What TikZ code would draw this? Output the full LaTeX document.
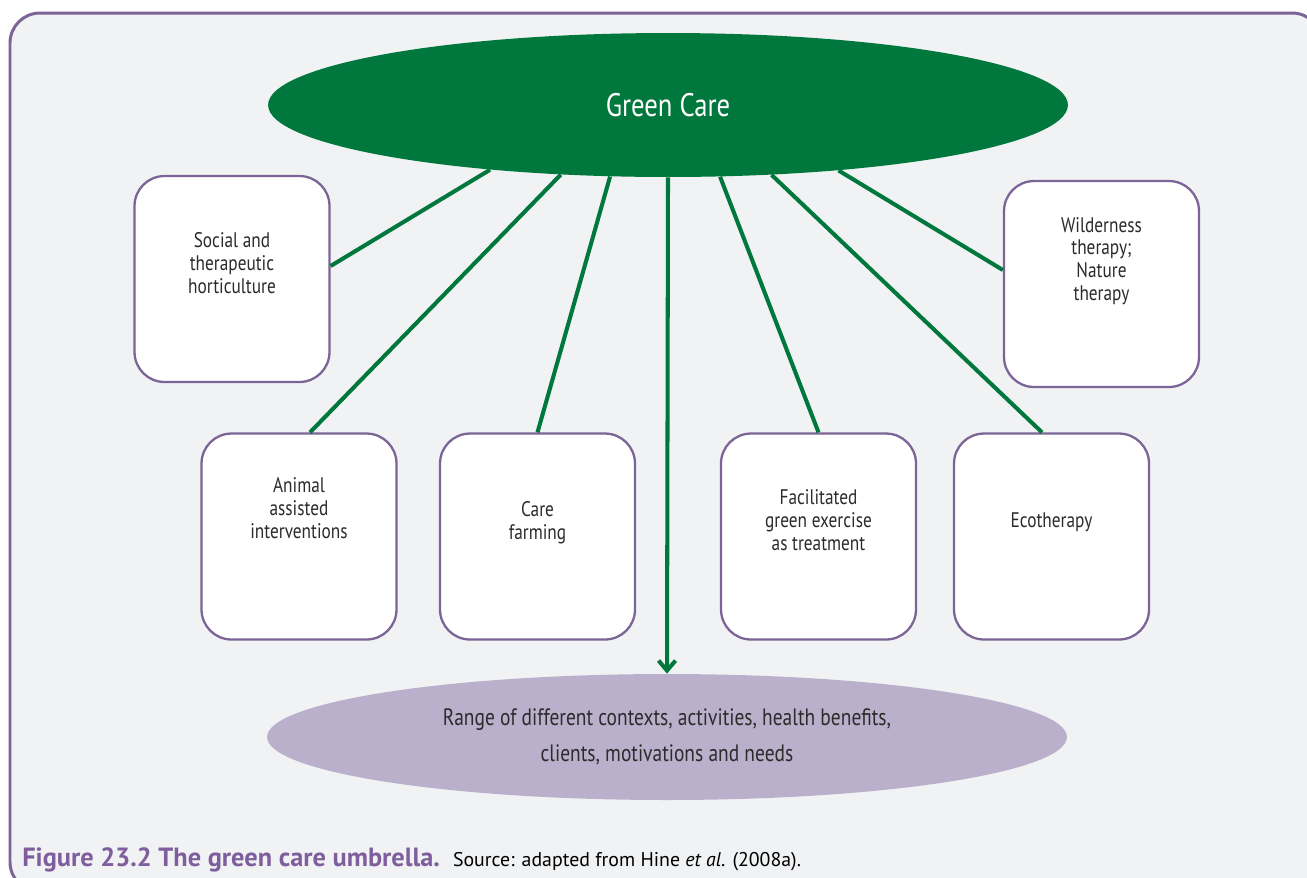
\documentclass[tikz,border=0pt]{standalone}
\usepackage{fontspec}
\setmainfont{PT Sans}[FakeStretch=0.82]
\newfontfamily\captfont{PT Sans}
\usetikzlibrary{shapes.geometric,arrows.meta}

\definecolor{panelbg}{HTML}{F1F2F4}
\definecolor{panelline}{HTML}{7B6496}
\definecolor{umbgreen}{HTML}{00773C}
\definecolor{rangelilac}{HTML}{BAB0CC}
\definecolor{captpurple}{HTML}{7E5E9C}
\definecolor{boxtext}{HTML}{2B2B2B}

\tikzset{
  kindbox/.style={draw=panelline, line width=1.3pt, fill=white, rounded corners=0.6cm,
    minimum width=3.9cm, minimum height=4.12cm, inner sep=0pt},
  kindtext/.style={text=boxtext, align=center, font=\fontsize{12}{12.9}\selectfont},
  spoke/.style={draw=umbgreen, line width=2.3pt},
}

\begin{document}
\begin{tikzpicture}[x=0.02cm, y=-0.02cm]
  \useasboundingbox (0,0) rectangle (1307,877);
  \clip (0,0) rectangle (1307,877);

  % panel
  \draw[panelline, line width=1.7pt, fill=panelbg, rounded corners=0.6cm]
    (10,13) rectangle (1322,892);

  % umbrella and range
  \node[ellipse, fill=umbgreen, minimum width=16cm, minimum height=2.88cm, inner sep=0pt,
        text=white, font=\fontsize{18.5}{20}\selectfont] (green) at (668,105) {Green Care};
  \node[ellipse, fill=rangelilac, minimum width=16cm, minimum height=2.52cm, inner sep=0pt,
        text=boxtext, align=center, font=\fontsize{13.5}{20.5}\selectfont] (range) at (667,737)
        {Range of different contexts, activities, health benefits,\\clients, motivations and needs};

  % kinds of green care
  \node[kindbox] (soc) at (232,279) {};
  \node[kindbox] (wild) at (1101.5,284) {};
  \node[kindbox] (anim) at (299,536.5) {};
  \node[kindbox] (farm) at (537.5,536.5) {};
  \node[kindbox] (fac) at (818.5,536.5) {};
  \node[kindbox] (eco) at (1051.5,536.5) {};

  \node[kindtext] (soct) at (232,263) {Social and\\therapeutic\\horticulture};
  \node[kindtext] (wildt) at (1101.5,261) {Wilderness\\therapy;\\Nature\\therapy};
  \node[kindtext] (animt) at (299,508) {Animal\\assisted\\interventions};
  \node[kindtext] (farmt) at (537.5,522.5) {Care\\farming};
  \node[kindtext] (fact) at (818.5,520) {Facilitated\\green exercise\\as treatment};
  \node[kindtext] (ecot) at (1051.5,522) {Ecotherapy};

  % spokes
  \draw[spoke] ([yshift=2.6mm]soc.east) -- (green.-160.2);
  \draw[spoke] ([xshift=2.2mm]anim.north) -- (green.-147.5);
  \draw[spoke] (farm.north) -- (green.-129.3);
  \draw[spoke] (fac.north) -- (green.-54.2);
  \draw[spoke] ([xshift=-1.9mm]eco.north) -- (green.-34.5);
  \draw[spoke] ([yshift=2.8mm]wild.west) -- (green.-21.7);
  \draw[spoke, -{Straight Barb[length=2mm,width=3.4mm]}] (green.south) -- (range.north);

  % caption
  \node[anchor=base west, inner sep=0pt] (capt) at (22,866)
    {\captfont\fontsize{15}{17}\selectfont\bfseries\color{captpurple}Figure 23.2 The green care umbrella.\enspace
     \mdseries\fontsize{11.3}{13}\selectfont\color{black}Source: adapted from Hine \textit{et al}. (2008a).};
\end{tikzpicture}
\end{document}
